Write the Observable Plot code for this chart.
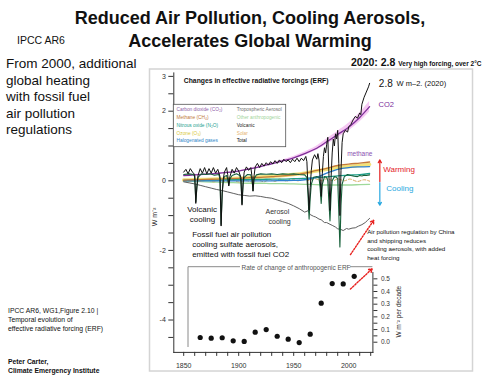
<!DOCTYPE html>
<html><head><meta charset="utf-8">
<script src="https://cdn.jsdelivr.net/npm/d3@7"></script>
<script src="https://cdn.jsdelivr.net/npm/@observablehq/plot@0.6"></script>
<style>
html,body{margin:0;padding:0;background:#fff;}
#wrap{position:relative;width:500px;height:375px;overflow:hidden;background:#fff;}
#wrap svg{position:absolute;left:0;top:0;}
</style></head><body><div id="wrap"></div>
<script>
const FONT = "'Liberation Sans', Arial, Helvetica, sans-serif";

// ---------- data ----------
const years   = [1850,1860,1870,1880,1890,1900,1910,1920,1930,1940,1950,1960,1970,1980,1990,2000,2010,2019];
const co2     = [0.15,0.17,0.19,0.21,0.24,0.28,0.34,0.41,0.49,0.57,0.66,0.78,0.92,1.12,1.33,1.54,1.82,2.13];
const co2Lo   = [0.14,0.16,0.18,0.20,0.23,0.27,0.32,0.39,0.46,0.54,0.62,0.73,0.86,1.04,1.24,1.43,1.69,1.98];
const co2Hi   = [0.16,0.18,0.20,0.22,0.25,0.29,0.36,0.43,0.52,0.60,0.70,0.83,0.98,1.20,1.42,1.65,1.95,2.28];
const methane = [0.02,0.03,0.04,0.05,0.06,0.07,0.09,0.10,0.12,0.14,0.17,0.22,0.29,0.36,0.44,0.48,0.51,0.54];
const n2o     = [0.01,0.01,0.02,0.02,0.03,0.03,0.04,0.04,0.05,0.05,0.06,0.07,0.09,0.11,0.14,0.16,0.18,0.21];
const ozone   = [0.02,0.03,0.04,0.05,0.06,0.07,0.09,0.11,0.13,0.15,0.18,0.22,0.28,0.33,0.38,0.41,0.44,0.47];
const halogen = [0,0,0,0,0,0,0,0,0,0.005,0.01,0.03,0.09,0.22,0.33,0.38,0.40,0.41];
const otherAnthro = [-0.01,-0.02,-0.03,-0.04,-0.05,-0.06,-0.07,-0.07,-0.08,-0.08,-0.09,-0.10,-0.11,-0.12,-0.12,-0.12,-0.11,-0.10];

const aerosolYears = [1850,1855,1860,1865,1870,1875,1880,1885,1890,1895,1900,1905,1910,1915,1920,1925,1930,1935,1940,1945,1950,1955,1960,1963,1965,1968,1970,1973,1975,1978,1980,1983,1985,1988,1990,1993,1995,1998,2000,2003,2006,2009,2012,2015,2017,2019];
const aerosol = [-0.03,-0.06,-0.09,-0.13,-0.17,-0.21,-0.25,-0.28,-0.32,-0.36,-0.40,-0.42,-0.44,-0.43,-0.45,-0.48,-0.50,-0.55,-0.60,-0.65,-0.72,-0.80,-0.90,-0.86,-0.97,-1.02,-1.04,-1.10,-1.12,-1.20,-1.20,-1.25,-1.28,-1.33,-1.38,-1.40,-1.43,-1.37,-1.39,-1.36,-1.35,-1.30,-1.26,-1.20,-1.14,-1.08];

const volcanic = [[1850,0.18],[1855,0.2],[1859,0.18],[1860,0.12],[1861,-0.6],[1862,-0.2],[1863,0.1],[1866,0.2],[1870,0.18],[1874,0.2],[1878,0.16],[1882,0.18],[1883,0.05],[1884,-1.25],[1885,-0.35],[1886,0.0],[1887,0.12],[1889,0.15],[1890,0.05],[1891,-0.12],[1892,0.05],[1894,0.15],[1898,0.2],[1901,0.15],[1902,0.0],[1903,-0.65],[1904,-0.1],[1905,0.1],[1908,0.18],[1911,0.17],[1912,0.05],[1913,-0.28],[1914,0.05],[1916,0.17],[1920,0.2],[1925,0.19],[1930,0.2],[1935,0.18],[1940,0.2],[1945,0.19],[1950,0.2],[1955,0.18],[1960,0.17],[1962,0.1],[1963,-0.4],[1964,-1.1],[1965,-0.5],[1966,-0.1],[1968,0.1],[1971,0.12],[1973,0.1],[1974,-0.2],[1975,-0.65],[1976,-0.1],[1978,0.12],[1980,0.1],[1981,0.0],[1982,-0.6],[1983,-1.15],[1984,-0.4],[1985,0.0],[1987,0.12],[1989,0.1],[1990,0.05],[1991,-0.9],[1992,-1.9],[1993,-0.7],[1994,-0.1],[1996,0.12],[1999,0.18],[2002,0.15],[2005,0.13],[2008,0.12],[2010,0.15],[2012,0.14],[2014,0.16],[2016,0.15],[2019,0.17]];

const total = [[1850,0.25],[1852,0.33],[1854,0.2],[1856,0.35],[1858,0.25],[1860,0.18],[1861,-0.65],[1862,-0.15],[1863,0.15],[1865,0.35],[1867,0.22],[1869,0.38],[1871,0.2],[1873,0.35],[1875,0.22],[1877,0.38],[1879,0.22],[1881,0.33],[1883,0.12],[1884,-1.3],[1885,-0.35],[1886,0.05],[1887,0.25],[1889,0.38],[1890,0.18],[1891,-0.15],[1892,0.12],[1894,0.33],[1896,0.22],[1898,0.38],[1900,0.28],[1902,0.1],[1903,-0.7],[1904,-0.05],[1905,0.25],[1907,0.4],[1909,0.3],[1911,0.38],[1912,0.15],[1913,-0.3],[1914,0.15],[1915,0.4],[1917,0.5],[1919,0.38],[1921,0.5],[1923,0.42],[1925,0.52],[1927,0.45],[1929,0.55],[1931,0.48],[1933,0.58],[1935,0.5],[1937,0.6],[1939,0.52],[1941,0.62],[1943,0.55],[1945,0.6],[1947,0.52],[1949,0.62],[1951,0.55],[1953,0.65],[1955,0.55],[1957,0.65],[1959,0.58],[1961,0.7],[1962,0.55],[1963,-0.2],[1964,-0.85],[1965,-0.2],[1966,0.3],[1967,0.6],[1969,0.75],[1971,0.62],[1972,0.78],[1973,0.6],[1974,0.1],[1975,-0.45],[1976,0.2],[1977,0.7],[1978,0.95],[1979,0.8],[1980,1.05],[1981,1.25],[1982,0.2],[1983,-0.85],[1984,0.1],[1985,0.8],[1986,1.2],[1987,1.0],[1988,1.35],[1989,1.2],[1990,1.45],[1991,0.5],[1992,-1.0],[1993,0.3],[1994,1.1],[1995,1.35],[1997,1.45],[1999,1.4],[2000,1.55],[2002,1.62],[2004,1.75],[2006,1.85],[2008,1.8],[2010,1.95],[2011,1.9],[2012,2.2],[2014,2.4],[2016,2.55],[2018,2.7],[2019,2.8]];

const solar = [[1850,0.01],[1855,-0.03],[1860,0.03],[1866,-0.02],[1871,0.04],[1877,-0.03],[1883,0.02],[1889,-0.03],[1894,0.02],[1901,-0.04],[1906,0.01],[1913,-0.04],[1917,0.03],[1923,-0.03],[1928,0.04],[1933,-0.02],[1937,0.05],[1944,-0.01],[1947,0.06],[1954,0.0],[1958,0.07],[1964,0.01],[1969,0.06],[1976,0.0],[1980,0.06],[1986,0.0],[1990,0.06],[1996,0.0],[2001,0.05],[2008,-0.02],[2014,0.03],[2019,-0.01]];

// inset: rate of change of anthropogenic ERF (W m-2 per decade)
const rateYears = [1865,1875,1885,1895,1905,1915,1925,1935,1945,1955,1965,1975,1985,1995,2005];
const rateValues = [0.037,0.032,0.035,0.011,0.006,0.079,0.100,0.047,0.024,-0.003,0.063,0.308,0.463,0.460,0.520];

// tick labels
const xTicks = [1850,1860,1870,1880,1890,1900,1910,1920,1930,1940,1950,1960,1970,1980,1990,2000,2010,2020];
const xTickLabels = [1850,1900,1950,2000];
const yTicks = [-4.5,-4,-3.5,-3,-2.5,-2,-1.5,-1,-0.5,0,0.5,1,1.5,2,2.5,3];
const yTickLabels = [-4,-2,0,2,3];
const rateTicks = [0,0.05,0.1,0.15,0.2,0.25,0.3,0.35,0.4,0.45,0.5];
const rateTickLabels = ["0.0","0.1","0.2","0.3","0.4","0.5"];

// ---------- tables ----------
const smooth = years.map((year,i)=>({year, co2:co2[i], lo:co2Lo[i], hi:co2Hi[i], ch4:methane[i], n2o:n2o[i], o3:ozone[i], halo:halogen[i], other:otherAnthro[i]}));
const aerData = aerosolYears.map((year,i)=>({year, v:aerosol[i]}));
const volcData = volcanic.map(([year,v])=>({year,v}));
const totalData = total.map(([year,v])=>({year,v}));
const solarData = solar.map(([year,v])=>({year,v}));
const rateData = rateYears.map((year,i)=>({year, rate:rateValues[i]}));

// ---------- annotations ----------
const mainNotes = [
  {x:1850.1, y:2.82, t:"Changes in effective radiative forcings (ERF)", s:6.8, c:"#111", w:"bold"},
  {x:2027.4, y:2.70, t:"2.8", s:10, c:"#111", w:"normal"},
  {x:2043.5, y:2.71, t:"W m–2. (2020)", s:7.5, c:"#111", w:"normal"},
  {x:2027.2, y:2.11, t:"CO2", s:7.5, c:"#7b2d9b", w:"normal"},
  {x:1998.6, y:0.70, t:"methane", s:6.5, c:"#8a4fb0", w:"normal"},
  {x:2031.4, y:0.24, t:"Warming", s:8, c:"#e3201f", w:"normal"},
  {x:2034.1, y:-0.28, t:"Cooling", s:8, c:"#29a8e0", w:"normal"},
  {x:1853.2, y:-0.91, t:"Volcanic", s:8, c:"#111", w:"normal"},
  {x:1855.5, y:-1.19, t:"cooling", s:8, c:"#111", w:"normal"},
  {x:1924.4, y:-0.96, t:"Aerosol", s:7, c:"#333", w:"normal"},
  {x:1927.1, y:-1.23, t:"cooling", s:7, c:"#333", w:"normal"},
  {x:1857.7, y:-1.615, t:"Fossil fuel air pollution", s:8, c:"#111", w:"normal"},
  {x:1857.7, y:-1.90, t:"cooling sulfate aerosols,", s:8, c:"#111", w:"normal"},
  {x:1857.7, y:-2.19, t:"emitted with fossil fuel CO2", s:8, c:"#111", w:"normal"},
  {x:2016.8, y:-1.54, t:"Air pollution regulation by China", s:6.2, c:"#111", w:"normal"},
  {x:2016.8, y:-1.79, t:"and shipping reduces", s:6.2, c:"#111", w:"normal"},
  {x:2016.8, y:-2.03, t:"cooling aerosols, with added", s:6.2, c:"#111", w:"normal"},
  {x:2016.8, y:-2.28, t:"heat forcing", s:6.2, c:"#111", w:"normal"}
];
const noteMarks = mainNotes.map(n => Plot.text([n], {x:"x", y:"y", text:"t", fontSize:n.s, fill:n.c, fontWeight:n.w, textAnchor:"start", lineAnchor:"bottom"}));

const xDomain = [1841, 2022];
const ML = 173.3, MR = 127.6;
const wrap = document.getElementById("wrap");

const main = Plot.plot({
  width:500, height:375, marginLeft:ML, marginRight:MR, marginTop:72.4, marginBottom:23.1,
  style:{fontFamily:FONT, fontSize:"7px", background:"none", overflow:"visible", color:"#333"},
  x:{domain:xDomain, ticks:xTicks, tickFormat:d => xTickLabels.includes(d) ? String(d) : "", tickSize:4, tickPadding:7, line:true, label:null},
  y:{domain:[-4.93,3.1], ticks:yTicks, tickFormat:d => yTickLabels.includes(d) ? String(d) : "", tickSize:5, tickPadding:3, line:true, label:null},
  marks:[
    Plot.areaY(smooth, {x:"year", y1:"lo", y2:"hi", fill:"#f6c8f3", curve:"monotone-x"}),
    Plot.line(smooth, {x:"year", y:"o3", stroke:"#f2e27a", strokeWidth:3.5, curve:"monotone-x"}),
    Plot.line(smooth, {x:"year", y:"other", stroke:"#9fd99a", strokeWidth:1.3, curve:"monotone-x"}),
    Plot.line(solarData, {x:"year", y:"v", stroke:"#d9a860", strokeWidth:1, strokeDasharray:"3,2", curve:"monotone-x"}),
    Plot.line(smooth, {x:"year", y:"n2o", stroke:"#1f9e89", strokeWidth:1.3, curve:"monotone-x"}),
    Plot.line(smooth, {x:"year", y:"halo", stroke:"#2e80cf", strokeWidth:1.3, curve:"monotone-x"}),
    Plot.line(smooth, {x:"year", y:"ch4", stroke:"#c47a3b", strokeWidth:1.3, curve:"monotone-x"}),
    Plot.line(smooth, {x:"year", y:"co2", stroke:"#7e2f98", strokeWidth:1.3, curve:"monotone-x"}),
    Plot.line(aerData, {x:"year", y:"v", stroke:"#5f5f5f", strokeWidth:1}),
    Plot.line(volcData, {x:"year", y:"v", stroke:"#17603a", strokeWidth:1.1}),
    Plot.line(totalData, {x:"year", y:"v", stroke:"#111", strokeWidth:1}),
    Plot.arrow([{x1:2028.3, y1:-0.02, x2:2028.3, y2:0.60}], {x1:"x1", y1:"y1", x2:"x2", y2:"y2", stroke:"#e3201f", strokeWidth:1.2, headLength:4}),
    Plot.arrow([{x1:2028.3, y1:-0.05, x2:2028.3, y2:-0.70}], {x1:"x1", y1:"y1", x2:"x2", y2:"y2", stroke:"#29a8e0", strokeWidth:1.2, headLength:4}),
    Plot.arrow([{x1:2001.6, y1:-2.12, x2:2022.8, y2:-1.13}], {x1:"x1", y1:"y1", x2:"x2", y2:"y2", stroke:"#e8201e", strokeWidth:1.4, strokeDasharray:"1.5,1.5", headLength:4}),
    ...noteMarks
  ]
});
wrap.appendChild(main);

const inset = Plot.plot({
  width:500, height:375, marginLeft:ML, marginRight:MR, marginTop:272, marginBottom:23.1,
  style:{fontFamily:FONT, fontSize:"6.5px", background:"none", overflow:"visible", color:"#333"},
  x:{domain:xDomain, axis:null},
  y:{domain:[-0.0804,0.55], axis:"right", ticks:rateTicks, tickFormat:d => { const s = d.toFixed(1); return rateTickLabels.includes(s) && Math.abs(d*10 - Math.round(d*10)) < 1e-6 ? s : ""; }, tickSize:4, tickPadding:4, line:true, label:null},
  marks:[
    Plot.dot(rateData, {x:"year", y:"rate", r:2.6, fill:"#111", stroke:"none"}),
    Plot.arrow([{x1:2001.6, y1:0.42, x2:2021.4, y2:0.58}], {x1:"x1", y1:"y1", x2:"x2", y2:"y2", stroke:"#e8201e", strokeWidth:1.4, strokeDasharray:"1.5,1.5", headLength:4}),
    Plot.text([{x:1952.1, y:0.57, t:"Rate of change of anthropogenic ERF"}], {x:"x", y:"y", text:"t", fontSize:6.5, fill:"#555", textAnchor:"middle", lineAnchor:"bottom"})
  ]
});
wrap.appendChild(inset);

// ---------- page text, frame and legend ----------
const ov = d3.select(wrap).append("svg").attr("width",500).attr("height",375).style("font-family",FONT);
ov.append("rect").attr("x",149.5).attr("y",69).attr("width",323).attr("height",302).attr("fill","none").attr("stroke","#d4d4d4").attr("stroke-width",1.5);
ov.append("path").attr("d","M240,266.7H188V347M350,266.7H372.4").attr("fill","none").attr("stroke","#8a8a8a").attr("stroke-width",1);

const pageText = [
  {x:250, y:24, t:"Reduced Air Pollution, Cooling Aerosols,", s:18, w:"bold", a:"middle"},
  {x:250, y:47, t:"Accelerates Global Warming", s:18, w:"bold", a:"middle"},
  {x:17, y:44, t:"IPCC AR6", s:10.5, w:"normal", a:"start"},
  {x:6, y:68, t:"From 2000, additional", s:13.5, w:"normal", a:"start"},
  {x:6, y:84.5, t:"global heating", s:13.5, w:"normal", a:"start"},
  {x:6, y:101, t:"with fossil fuel", s:13.5, w:"normal", a:"start"},
  {x:6, y:117.5, t:"air pollution", s:13.5, w:"normal", a:"start"},
  {x:6, y:134, t:"regulations", s:13.5, w:"normal", a:"start"},
  {x:8, y:312.5, t:"IPCC AR6, WG1,Figure 2.10 |", s:6.8, w:"normal", a:"start"},
  {x:8, y:321.8, t:"Temporal evolution of", s:6.8, w:"normal", a:"start"},
  {x:8, y:330.8, t:"effective radiative forcing (ERF)", s:6.8, w:"normal", a:"start"},
  {x:8, y:363.5, t:"Peter Carter,", s:6.8, w:"bold", a:"start"},
  {x:8, y:372.5, t:"Climate Emergency Institute", s:6.8, w:"bold", a:"start"}
];
ov.selectAll("text.pg").data(pageText).join("text").attr("class","pg")
  .attr("x",d=>d.x).attr("y",d=>d.y).attr("font-size",d=>d.s).attr("font-weight",d=>d.w)
  .attr("text-anchor",d=>d.a).attr("fill","#111").text(d=>d.t);

const t2020 = ov.append("text").attr("x",351).attr("y",66).attr("font-weight","bold").attr("fill","#111");
t2020.append("tspan").attr("font-size",10.5).text("2020: 2.8 ");
t2020.append("tspan").attr("font-size",6.5).text("Very high forcing, over 2°C");

ov.append("text").attr("transform","translate(157,217) rotate(-90)").attr("text-anchor","middle").attr("font-size",7).attr("fill","#222").text("W m⁻²");
ov.append("text").attr("transform","translate(401,311.7) rotate(-90)").attr("text-anchor","middle").attr("font-size",6.5).attr("fill","#222").text("W m⁻² per decade");

// legend
const legendLeft = [["Carbon dioxide (CO₂)","#8e5ea8"],["Methane (CH₄)","#c0783c"],["Nitrous oxide (N₂O)","#23a08e"],["Ozone (O₃)","#d8c83a"],["Halogenated gases","#2f86c8"]];
const legendRight = [["Tropospheric Aerosol","#6e6e6e"],["Other anthropogenic","#9fd49a"],["Volcanic","#222"],["Solar","#e6b470"],["Total","#111"]];
const legendRows = [111.3,119.2,127.1,134.8,142];
ov.append("rect").attr("x",173.3).attr("y",104.3).attr("width",112.4).attr("height",42.4).attr("fill","#fff").attr("stroke","#555").attr("stroke-width",0.8);
legendLeft.forEach(([t,c],i)=> ov.append("text").attr("x",176.5).attr("y",legendRows[i]).attr("font-size",4.8).attr("fill",c).text(t));
legendRight.forEach(([t,c],i)=> ov.append("text").attr("x",236.7).attr("y",legendRows[i]).attr("font-size",4.8).attr("fill",c).text(t));
</script></body></html>
